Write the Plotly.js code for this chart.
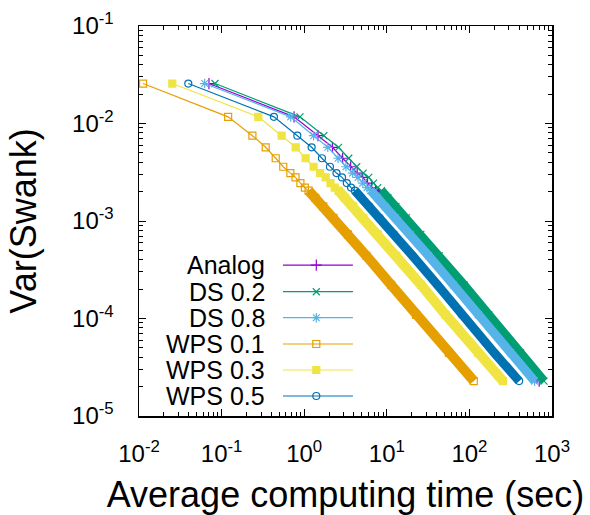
<!DOCTYPE html>
<html><head><meta charset="utf-8">
<script src="https://cdn.plot.ly/plotly-3.0.1.min.js"></script>
<style>html,body{margin:0;padding:0;background:#fff}#chart{width:590px;height:515px}</style>
</head><body><div id="chart"></div>
<script>
// ---- data ----
const seriesNames = ['Analog', 'DS 0.2', 'DS 0.8', 'WPS 0.1', 'WPS 0.3', 'WPS 0.5'];
// sample counts at which the points were read (for reference)
const sampleCounts = [1, 10, 20, 30, 40, 50, 60, 70, 80, 90, 100, 120, 150, 200, 300, 500, 1000, 2000, 5000, 10000];
// Var(Swank) at those points (shared by all methods)
const varSwank = [0.0257, 0.0117, 0.0075, 0.0057, 0.0044, 0.0036, 0.0031, 0.0028, 0.00245, 0.0022,
  0.00205, 0.00173, 0.00141, 0.00108, 0.00073, 0.00044, 0.000221, 0.000109, 0.0000445, 0.0000228];
// average computing time (sec) per method
const timeAnalog = [0.0703, 0.753, 1.47, 2.2, 2.92, 3.65, 4.38, 5.11, 5.84, 6.57, 7.3, 8.76, 10.95, 14.6, 21.9, 36.5, 73, 146, 360, 700];
const timeDS02   = [0.0832, 0.889, 1.73, 2.6, 3.46, 4.32, 5.18, 6.04, 6.9, 7.76, 8.62, 10.3, 12.9, 17.2, 25.8, 43, 86, 172, 415, 800];
const timeDS08   = [0.0624, 0.687, 1.3, 1.93, 2.57, 3.2, 3.85, 4.48, 5.12, 5.76, 6.4, 7.68, 9.6, 12.8, 19.2, 32, 64, 128, 315, 615];
const timeWPS01  = [0.0112, 0.12, 0.236, 0.342, 0.452, 0.558, 0.68, 0.785, 0.9, 1.02, 1.13, 1.36, 1.7, 2.26, 3.39, 5.65, 11.3, 22.6, 56.5, 113];
const timeWPS03  = [0.0253, 0.278, 0.533, 0.789, 1.04, 1.3, 1.56, 1.82, 2.08, 2.34, 2.6, 3.12, 3.9, 5.2, 7.8, 13, 26, 51.5, 128, 255];
const timeWPS05  = [0.0395, 0.43, 0.826, 1.23, 1.64, 2.05, 2.46, 2.87, 3.28, 3.69, 4.1, 4.92, 6.15, 8.2, 12.3, 20.5, 41, 81, 200, 400];
const xTickVals = [0.01, 0.1, 1, 10, 100, 1000];
const xTickText = ['10<sup>-2</sup>', '10<sup>-1</sup>', '10<sup>0</sup>', '10<sup>1</sup>', '10<sup>2</sup>', '10<sup>3</sup>'];
const yTickVals = [0.00001, 0.0001, 0.001, 0.01, 0.1];
const yTickText = ['10<sup>-5</sup>', '10<sup>-4</sup>', '10<sup>-3</sup>', '10<sup>-2</sup>', '10<sup>-1</sup>'];

// ---- styles ----
const times = [timeAnalog, timeDS02, timeDS08, timeWPS01, timeWPS03, timeWPS05];
const styles = [
  {color: '#9400d3', symbol: 'cross-thin', size: 8, band: 8},
  {color: '#009e73', symbol: 'x-thin', size: 7, band: 9},
  {color: '#56b4e9', symbol: 'asterisk', size: 8, band: 9},
  {color: '#e69f00', symbol: 'square-open', size: 7, band: 10},
  {color: '#f0e442', symbol: 'square', size: 7, band: 10},
  {color: '#0072b2', symbol: 'circle-open', size: 7, band: 9}
];
const bandStart = 10; // index from which markers overlap into a solid band
const FONT = 'Liberation Sans, Arial, Helvetica, sans-serif';
const legendGeom = {textX: 0.309, lineX0: 0.3487, lineX1: 0.518, markX: 0.4293,
  rows: [0.387, 0.3187, 0.252, 0.1846, 0.118, 0.0513]};

// minor tick positions (2..9 within each decade of the axis)
function minorTicks(lo, hi) {
  const out = [];
  for (let e = lo; e < hi; e++) for (let m = 2; m <= 9; m++) out.push(m * Math.pow(10, e));
  return out;
}

const data = [];
seriesNames.forEach((name, i) => {
  const st = styles[i];
  data.push({
    x: times[i].slice(bandStart), y: varSwank.slice(bandStart), type: 'scatter', mode: 'lines',
    line: {color: st.color, width: st.band}, hoverinfo: 'skip', showlegend: false
  });
  data.push({
    x: times[i], y: varSwank, type: 'scatter', mode: 'lines+markers', name: name,
    line: {color: st.color, width: 1.2},
    marker: {symbol: st.symbol, size: st.size, color: st.color, line: {color: st.color, width: 1.2}},
    showlegend: false
  });
});
// custom legend (text on the left, sample on the right as in the original)
const annotations = [];
seriesNames.forEach((name, i) => {
  const st = styles[i];
  const yy = legendGeom.rows[i];
  data.push({x: [legendGeom.lineX0, legendGeom.lineX1], y: [yy, yy], xaxis: 'x2', yaxis: 'y2',
    type: 'scatter', mode: 'lines', line: {color: st.color, width: 1.2}, showlegend: false, hoverinfo: 'skip'});
  data.push({x: [legendGeom.markX], y: [yy], xaxis: 'x2', yaxis: 'y2', type: 'scatter', mode: 'markers',
    marker: {symbol: st.symbol, size: st.size, color: st.color, line: {color: st.color, width: 1.2}},
    showlegend: false, hoverinfo: 'skip'});
  annotations.push({x: legendGeom.textX, y: yy, xref: 'paper', yref: 'paper', xanchor: 'right', yanchor: 'middle',
    text: name, showarrow: false, font: {family: FONT, size: 25, color: '#000'}});
});

const axisCommon = {
  type: 'log', showgrid: false, zeroline: false, showline: true, linecolor: '#000', linewidth: 1.5,
  mirror: 'allticks', ticks: 'inside', ticklen: 7, tickwidth: 1, tickcolor: '#000', tickmode: 'array',
  tickfont: {family: FONT, size: 24, color: '#000'}
};
const minorCommon = {ticks: 'inside', ticklen: 4, tickwidth: 1, tickcolor: '#000', showgrid: false, tickmode: 'array'};
const layout = {
  width: 590, height: 515, margin: {l: 139, r: 38, t: 26, b: 99},
  paper_bgcolor: '#fff', plot_bgcolor: '#fff', showlegend: false,
  xaxis: Object.assign({}, axisCommon, {range: [-2, 3], tickvals: xTickVals, ticktext: xTickText,
    ticklabelstandoff: 16,
    minor: Object.assign({}, minorCommon, {tickvals: minorTicks(-2, 3)}),
    title: {text: 'Average computing time (sec)', font: {family: FONT, size: 36, color: '#000'}, standoff: 20}}),
  yaxis: Object.assign({}, axisCommon, {range: [-5, -1], tickvals: yTickVals, ticktext: yTickText,
    ticklabelstandoff: 19,
    minor: Object.assign({}, minorCommon, {tickvals: minorTicks(-5, -1)}),
    title: {text: 'Var(Swank)', font: {family: FONT, size: 36, color: '#000'}, standoff: 24}}),
  xaxis2: {overlaying: 'x', range: [0, 1], visible: false, fixedrange: true},
  yaxis2: {overlaying: 'y', range: [0, 1], visible: false, fixedrange: true},
  annotations: annotations
};
Plotly.newPlot('chart', data, layout, {staticPlot: true});
</script></body></html>
